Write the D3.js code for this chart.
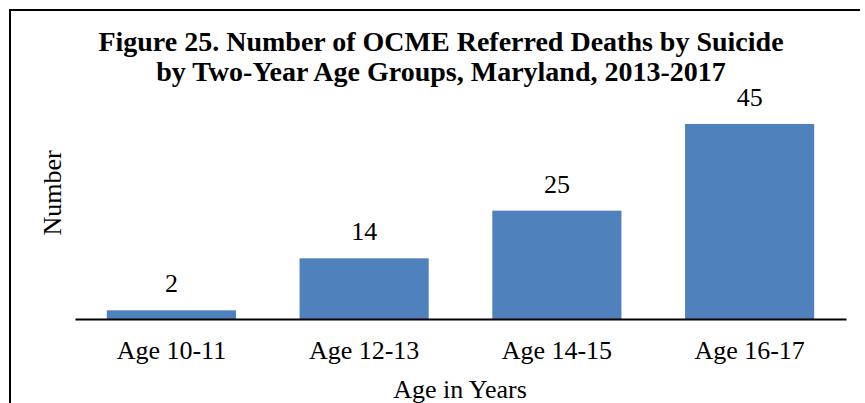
<!DOCTYPE html>
<html>
<head>
<meta charset="utf-8">
<script src="https://cdn.jsdelivr.net/npm/d3@7/dist/d3.min.js"></script>
<style>
  body { margin: 0; background: #fff; }
  text { font-family: "Liberation Serif", "Times New Roman", serif; fill: #000; }
</style>
</head>
<body>
<div id="container"></div>
<script>
var categories = ['Age 10-11', 'Age 12-13', 'Age 14-15', 'Age 16-17'];
var values = [2, 14, 25, 45];
var titleLines = ['Figure 25. Number of OCME Referred Deaths by Suicide',
                  'by Two-Year Age Groups, Maryland, 2013-2017'];

var width = 865,
    height = 403,
    margin = { left: 75, top: 124, right: 19, bottom: 84 },
    g_width = width - margin.left - margin.right,
    g_height = height - margin.top - margin.bottom;

var svg = d3.select('#container')
    .append('svg')
    .attr('width', width)
    .attr('height', height);

// frame
svg.append('path')
    .attr('d', 'M10,403 L10,10 L860,10')
    .attr('fill', 'none')
    .attr('stroke', '#000')
    .attr('stroke-width', 2);

var g = svg.append('g')
    .attr('transform', 'translate(' + margin.left + ',' + margin.top + ')');

var scale_x = d3.scaleBand()
    .domain(categories)
    .range([0, g_width])
    .paddingInner(0.33)
    .paddingOuter(0.165);

var scale_y = d3.scaleLinear()
    .domain([0, 45])
    .range([g_height, 0]);

g.selectAll('rect.bar')
    .data(values)
    .enter()
    .append('rect')
    .attr('class', 'bar')
    .attr('x', function (d, i) { return scale_x(categories[i]); })
    .attr('y', function (d) { return scale_y(d); })
    .attr('width', scale_x.bandwidth())
    .attr('height', function (d) { return g_height - scale_y(d); })
    .attr('fill', '#4f81bd');

g.selectAll('text.val')
    .data(values)
    .enter()
    .append('text')
    .attr('class', 'val')
    .attr('x', function (d, i) { return scale_x(categories[i]) + scale_x.bandwidth() / 2; })
    .attr('y', function (d) { return scale_y(d) - 18; })
    .attr('text-anchor', 'middle')
    .style('font-size', '26px')
    .text(function (d) { return d; });

// x axis
var x_axis = d3.axisBottom(scale_x).tickSize(0);
var xg = g.append('g')
    .attr('transform', 'translate(0,' + g_height + ')')
    .call(x_axis);
xg.select('.domain').attr('stroke', '#000').attr('stroke-width', 2);
xg.selectAll('text')
    .attr('y', 40)
    .attr('dy', 0)
    .style('font-family', '"Liberation Serif", "Times New Roman", serif')
    .style('font-size', '26px')
    .attr('fill', '#000');

// title
svg.selectAll('text.title')
    .data(titleLines)
    .enter()
    .append('text')
    .attr('class', 'title')
    .attr('x', 441)
    .attr('y', function (d, i) { return 51 + i * 30; })
    .attr('text-anchor', 'middle')
    .style('font-size', '28px')
    .style('font-weight', 'bold')
    .text(function (d) { return d; });

// axis titles
svg.append('text')
    .attr('x', 460)
    .attr('y', 398)
    .attr('text-anchor', 'middle')
    .style('font-size', '26px')
    .text('Age in Years');

svg.append('text')
    .attr('transform', 'translate(61,193) rotate(-90)')
    .attr('text-anchor', 'middle')
    .style('font-size', '26px')
    .text('Number');
</script>
</body>
</html>
